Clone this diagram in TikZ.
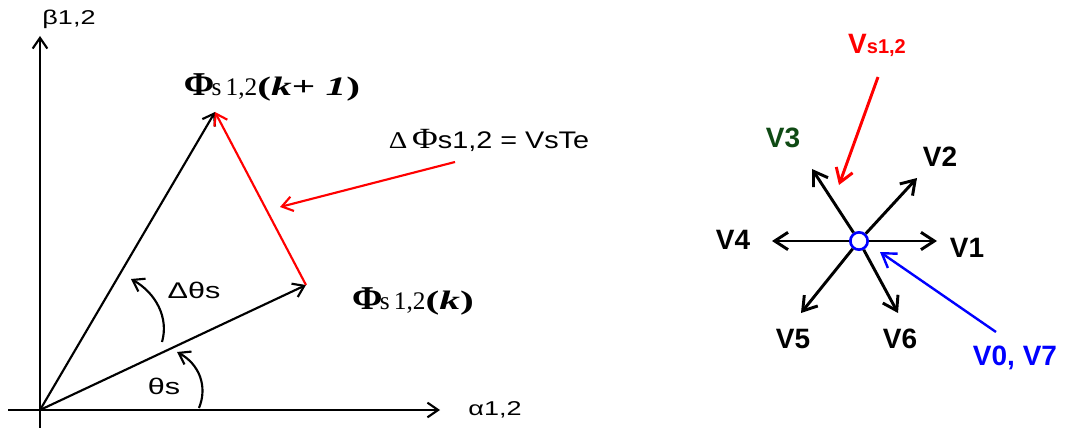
\documentclass[tikz,border=0pt]{standalone}
\usepackage{fontspec}
\usepackage{graphicx}
\setmainfont{Liberation Sans}
\newfontfamily\phifont{Liberation Serif}
\usetikzlibrary{arrows.meta}
\definecolor{vsred}{HTML}{FF0000}
\definecolor{zeroblue}{HTML}{0000FF}
\definecolor{vgreen}{HTML}{0F4A14}

% flux label, stretched like the original
\newcommand{\fluxlbl}[1]{%
  \scalebox{1.1}[1]{\phifont\bfseries\fontsize{25}{25}\selectfont Φ}\kern-2pt
  {\phifont\fontsize{19}{19}\selectfont s\,1,2}%
  \scalebox{1.55}[1]{\phifont\bfseries\fontsize{20}{20}\selectfont(#1)}}

\begin{document}
\begin{tikzpicture}[
  x=0.75pt, y=-0.75pt,
  every node/.style={inner sep=0pt},
  vec/.style={-{Straight Barb[length=8pt,width=11pt]}, line width=1.6pt},
  flux/.style={vec, draw=vsred},
  axlbl/.style={font=\fontsize{15}{15}\selectfont, xscale=1.35},
  anglbl/.style={font=\fontsize{17}{17}\selectfont, xscale=1.35},
  eqlbl/.style={font=\fontsize{18}{18}\selectfont, xscale=1.2},
  vlbl/.style={font=\bfseries\fontsize{21}{21}\selectfont},
  varrow/.style={-{Straight Barb[length=10pt,width=13pt]}, line width=2.2pt},
  hub/.style={circle, draw=zeroblue, fill=white, line width=2pt, minimum size=13pt}
]
\useasboundingbox (0,0) rectangle (1065,428);

%% left: flux vectors
\coordinate (O)      at (40,410);
\coordinate (xstart) at (8,410);
\coordinate (xend)   at (440,410);
\coordinate (ystart) at (40,428);
\coordinate (yend)   at (40,36);
\coordinate (fk)     at (306,285);
\coordinate (fk1)    at (215,112);
\coordinate (dfstart) at (455,162);
\coordinate (dfend)   at (280,207);

\draw[vec] (xstart) -- (xend);
\draw[vec] (ystart) -- (yend);
\draw[vec] (O) -- (fk);
\draw[vec] (O) -- (fk1);
\draw[flux] (fk) -- (fk1);
\draw[flux] (dfstart) -- (dfend);

\draw[vec] (162,342) .. controls (169,318) and (156,293) .. (131,279);
\draw[vec] (199,408) .. controls (208,386) and (199,364) .. (177,352);

\node[axlbl]  (beta)  at (69,19)   {β1,2};
\node[axlbl]  (alpha) at (495,410) {α1,2};
\node[anglbl] (dth)   at (194,290) {Δθs};
\node[anglbl] (th)    at (164,386) {θs};
\node[eqlbl]  (dflbl) at (489,140)
  {{\phifont Δ\,{\fontsize{22}{22}\selectfont Φ}}s1,2 = VsTe};
\node (fk1lbl) at (272,87)  {\fluxlbl{\textit{k}+ \textit{1}}};
\node (fklbl)  at (413,301) {\fluxlbl{\textit{k}}};

%% right: voltage vectors
\node[hub] (hub) at (859,241) {};
\coordinate (t1) at (937,241);
\coordinate (t2) at (917,178);
\coordinate (t3) at (812,169);
\coordinate (t4) at (772,241);
\coordinate (t5) at (801,313);
\coordinate (t6) at (898,313);
\foreach \t in {t1,t2,t3,t4,t5,t6}
  \draw[varrow] (hub) -- (\t);

\node[vlbl] (v1) at (967,248) {V1};
\node[vlbl] (v2) at (940,157) {V2};
\node[vlbl, text=vgreen] (v3) at (783,138) {V3};
\node[vlbl] (v4) at (733,240) {V4};
\node[vlbl] (v5) at (793,339) {V5};
\node[vlbl] (v6) at (900,339) {V6};
\node[vlbl, text=vsred] (vs) at (877,45)
  {V{\fontsize{15}{15}\selectfont s1,2}};
\node[vlbl, text=zeroblue] (v07) at (1015,358) {V0, V7};

\coordinate (vsstart) at (878,77);
\coordinate (vsend)   at (839,185);
\coordinate (v07start) at (996,332);
\coordinate (v07end)   at (880,252);
\draw[varrow, draw=vsred] (vsstart) -- (vsend);
\draw[varrow, draw=zeroblue, line width=1.8pt] (v07start) -- (v07end);
\end{tikzpicture}
\end{document}
